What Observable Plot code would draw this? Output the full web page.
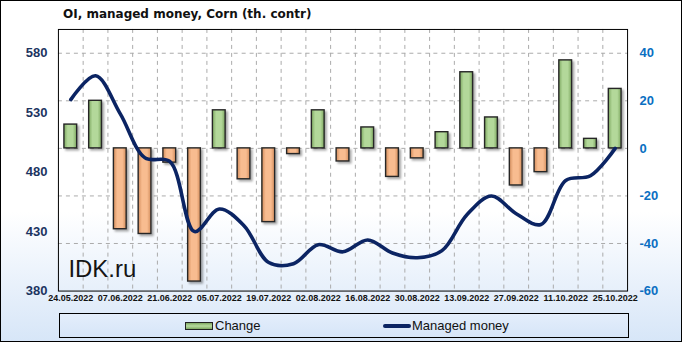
<!DOCTYPE html>
<html>
<head>
<meta charset="utf-8">
<script src="https://cdn.jsdelivr.net/npm/d3@7"></script>
<script src="https://cdn.jsdelivr.net/npm/@observablehq/plot@0.6"></script>
<style>
  html, body { margin: 0; padding: 0; }
  #wrap {
    position: relative; width: 682px; height: 342px; box-sizing: border-box;
    border: 1px solid #000; overflow: hidden;
    background: linear-gradient(to bottom, #ffffff 0%, #ffffff 62%, #d7e6f8 100%);
  }
  #chart { position: absolute; left: -1px; top: -1px; }
  #title {
    position: absolute; left: 62px; top: 6px; font: bold 12px "DejaVu Sans", sans-serif; color: #111;
    white-space: nowrap;
  }
  #legend {
    position: absolute; left: 58px; top: 312px; width: 570px; height: 25px; box-sizing: border-box;
    border: 1px solid #000; background: linear-gradient(to bottom, #e4eefb, #d6e5f8);
    font: 13px "Liberation Sans", sans-serif; color: #111;
  }
  .item { position: absolute; top: 4px; display: flex; align-items: center; white-space: nowrap; }
  .sw-bar { width: 26px; height: 6px; border: 1px solid #222; background: linear-gradient(to bottom, #7fa862, #b8db9f, #7fa862); margin-right: 2px; }
  .sw-line { width: 28px; height: 4px; border-radius: 2px; background: #0b2463; margin-right: 1px; }
</style>
</head>
<body>
<div id="wrap">
  <div id="chart"></div>
  <div id="title">OI, managed money, Corn (th. contr)</div>
  <div id="legend">
    <div class="item" style="left:125px"><div class="sw-bar"></div><span>Change</span></div>
    <div class="item" style="left:323px"><div class="sw-line"></div><span>Managed money</span></div>
  </div>
</div>
<script>
// ---- data ----
const dates = ["24.05.2022","31.05.2022","07.06.2022","14.06.2022","21.06.2022","28.06.2022",
  "05.07.2022","12.07.2022","19.07.2022","26.07.2022","02.08.2022","09.08.2022","16.08.2022",
  "23.08.2022","30.08.2022","06.09.2022","13.09.2022","20.09.2022","27.09.2022","04.10.2022",
  "11.10.2022","18.10.2022","25.10.2022"];
const change = [10, 20, -34, -36, -6, -56, 16, -13, -31, -2.4, 16, -5.5, 8.8, -12, -4.2, 6.8,
  32, 13, -15.6, -10, 37, 4, 25];
const managed = [541, 561, 529, 492, 489, 430, 449, 435, 404, 403, 419, 413, 423, 412, 408, 414,
  444, 460, 445, 436, 473, 477, 500];
const leftTicks = [380, 430, 480, 530, 580];
const rightTicks = [-60, -40, -20, 0, 20, 40];
const xTickLabels = dates.filter((d, i) => i % 2 === 0);

// left axis (managed money) shares the frame with right axis (change): 380..600 <-> -60..50
const toRight = v => (v - 380) / 2 - 60;
const toLeft = r => 380 + (r + 60) * 2;

const rows = dates.map((d, i) => ({date: d, change: change[i], managed: toRight(managed[i])}));
const pos = rows.filter(r => r.change >= 0);
const neg = rows.filter(r => r.change < 0);

const W = 682, H = 342;
const mL = 58, mR = 54, mT = 29, mB = 51;
const bw = (W - mL - mR) / dates.length;

const plot = Plot.plot({
  width: W, height: H,
  marginLeft: mL, marginRight: mR, marginTop: mT, marginBottom: mB,
  style: {background: "transparent", overflow: "visible"},
  x: {type: "band", domain: dates, padding: 0, round: false, axis: null, label: null},
  y: {domain: [-60, 50], axis: null, label: null},
  marks: [
    Plot.gridY([-40, -20, 0, 20, 40], {stroke: "#ababab", strokeOpacity: 1, strokeDasharray: "4,4"}),
    Plot.ruleX(dates.slice(1), {dx: -bw / 2, stroke: "#ababab", strokeDasharray: "4,4"}),
    Plot.text(["IDK.ru"], {frameAnchor: "bottom-left", dx: 10, dy: -14, fontSize: 24,
      fontFamily: "Liberation Sans", fill: "#151515", textAnchor: "start"}),
    Plot.barY(pos, {x: "date", y: "change", fill: "url(#gGreen)", stroke: "#262626", strokeWidth: 1.4, insetLeft: 6, insetRight: 6}),
    Plot.barY(neg, {x: "date", y: "change", fill: "url(#gOrange)", stroke: "#262626", strokeWidth: 1.4, insetLeft: 6, insetRight: 6}),
    Plot.line(rows, {x: "date", y: "managed", stroke: "#0b2463", strokeWidth: 3.6, curve: "catmull-rom"}),
    Plot.frame({stroke: "#000", strokeWidth: 1}),
    Plot.axisY(leftTicks.map(toRight), {anchor: "left", tickSize: 0, tickPadding: 11, label: null,
      tickFormat: d => String(toLeft(d)), fontSize: 13, fontWeight: "bold",
      fontFamily: "Liberation Sans", color: "#1c3461"}),
    Plot.axisY(rightTicks, {anchor: "right", tickSize: 0, tickPadding: 12, label: null,
      tickFormat: d => String(d), fontSize: 13, fontWeight: "bold",
      fontFamily: "Liberation Sans", color: "#0a6fc2"}),
    Plot.axisX(xTickLabels, {anchor: "bottom", tickSize: 0, tickPadding: 4, fontSize: 9, label: null,
      fontWeight: "bold", fontFamily: "Liberation Sans", color: "#111"})
  ]
});

const svg = d3.select(plot);
const defs = svg.insert("defs", ":first-child");
function grad(id, edge, mid) {
  const g = defs.append("linearGradient").attr("id", id).attr("x1", 0).attr("x2", 1).attr("y1", 0).attr("y2", 0);
  g.append("stop").attr("offset", "0%").attr("stop-color", edge);
  g.append("stop").attr("offset", "30%").attr("stop-color", mid);
  g.append("stop").attr("offset", "70%").attr("stop-color", mid);
  g.append("stop").attr("offset", "100%").attr("stop-color", edge);
}
grad("gGreen", "#7ea861", "#b3d89a");
grad("gOrange", "#d38d5c", "#f8bc90");
const f = defs.append("filter").attr("id", "shadow").attr("x", "-30%").attr("y", "-10%").attr("width", "160%").attr("height", "130%");
f.append("feDropShadow").attr("dx", 2).attr("dy", 2).attr("stdDeviation", 1.2).attr("flood-color", "#000").attr("flood-opacity", 0.35);
svg.selectAll('g[aria-label="bar"]').attr("filter", "url(#shadow)");

document.getElementById("chart").appendChild(plot);
</script>
</body>
</html>
